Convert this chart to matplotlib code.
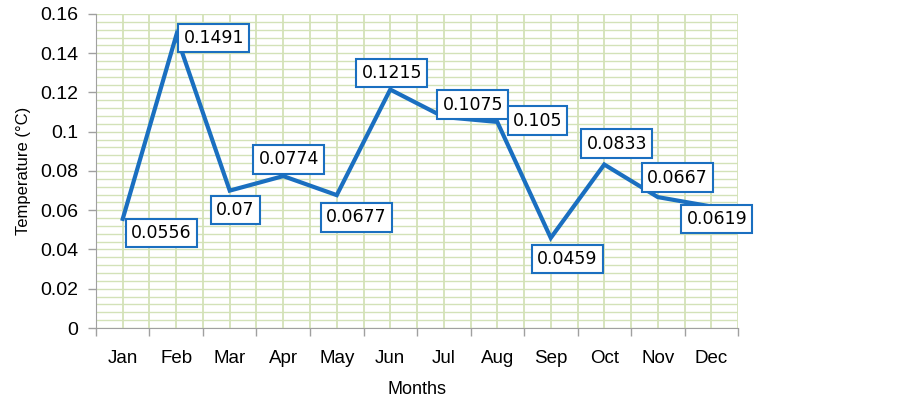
import matplotlib.pyplot as plt
import numpy as np
from matplotlib.ticker import MultipleLocator

months = ['Jan', 'Feb', 'Mar', 'Apr', 'May', 'Jun', 'Jul', 'Aug', 'Sep', 'Oct', 'Nov', 'Dec']
temps = [0.0556, 0.1491, 0.07, 0.0774, 0.0677, 0.1215, 0.1075, 0.105, 0.0459, 0.0833, 0.0667, 0.0619]
ytick_vals = [0, 0.02, 0.04, 0.06, 0.08, 0.1, 0.12, 0.14, 0.16]
ytick_labels = ['0', '0.02', '0.04', '0.06', '0.08', '0.1', '0.12', '0.14', '0.16']

# label offsets (points) from each data point, hand placed like excel did
label_off = [(28, -10), (27, -2), (4, -14), (4, 12), (14, -16), (1, 12), (21, 9), (29, 1),
             (12, -15), (9, 15), (14, 14), (4, -9)]

line_col = '#1a6fc0'
grid_col = '#d3e2b8'

fig = plt.figure(figsize=(9.03, 3.97), dpi=100)
ax = fig.add_axes([0.1063, 0.1738, 0.711, 0.791])

x = np.arange(len(months))
ax.plot(x, temps, color=line_col, lw=3, solid_joinstyle='miter', zorder=3)

for xi, v, off in zip(x, temps, label_off):
    ax.annotate(f'{v:g}', (xi, v), xytext=off, textcoords='offset points',
                ha='center', va='center', fontsize=12.5, family='DejaVu Sans',
                bbox=dict(boxstyle='square,pad=0.3', fc='white', ec=line_col, lw=1.5),
                zorder=4)

ax.set_xlim(-0.5, 11.5)
ax.set_ylim(0, 0.16)
ax.set_xticks(x)
ax.set_xticklabels(months, fontsize=13.5, family='Liberation Sans')
ax.set_xticks(np.arange(-0.5, 12, 1), minor=True)
ax.tick_params(axis='x', which='major', length=0, pad=16)
ax.tick_params(axis='x', which='minor', length=6, color='#a0a0a0', width=1)
ax.set_yticks(ytick_vals)
ax.set_yticklabels(ytick_labels, fontsize=14, family='Liberation Sans')
ax.yaxis.set_minor_locator(MultipleLocator(0.004))
ax.tick_params(axis='y', which='major', length=6, color='#a0a0a0', width=1, pad=7)
ax.tick_params(axis='y', which='minor', length=0)

ax.grid(True, which='both', axis='y', color=grid_col, lw=1)
ax.grid(True, which='both', axis='x', color=grid_col, lw=1.3)
ax.set_axisbelow(True)

for s in ['top', 'right']:
    ax.spines[s].set_visible(False)
for s in ['left', 'bottom']:
    ax.spines[s].set_color('#a0a0a0')

ax.set_xlabel('Months', fontsize=13, family='Liberation Sans', labelpad=10)
ax.set_ylabel('Temperature (°C)', fontsize=12, family='Liberation Sans', labelpad=6)

fig.savefig('out.png', dpi=100)
